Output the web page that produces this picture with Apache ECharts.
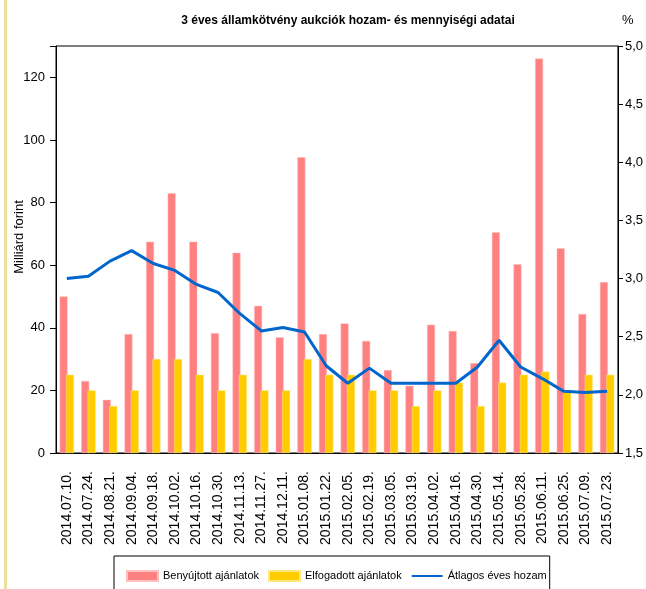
<!DOCTYPE html>
<html>
<head>
    <meta charset="utf-8">
    <title>3 éves államkötvény aukciók</title>
    <script src="https://cdn.jsdelivr.net/npm/echarts@6.0.0/dist/echarts.min.js"></script>
    <style>
        html, body {
            margin: 0;
            padding: 0;
            width: 100%;
            height: 100%;
            overflow: hidden;
            background: #ffffff;
        }
        #chart {
            width: 646px;
            height: 589px;
        }
    </style>
</head>
<body>
    <div id="chart"></div>
    <script>
        // aukciós dátumok
        const datumok = [
            '2014.07.10.', '2014.07.24.', '2014.08.21.', '2014.09.04.', '2014.09.18.',
            '2014.10.02.', '2014.10.16.', '2014.10.30.', '2014.11.13.', '2014.11.27.',
            '2014.12.11.', '2015.01.08.', '2015.01.22.', '2015.02.05.', '2015.02.19.',
            '2015.03.05.', '2015.03.19.', '2015.04.02.', '2015.04.16.', '2015.04.30.',
            '2015.05.14.', '2015.05.28.', '2015.06.11.', '2015.06.25.', '2015.07.09.',
            '2015.07.23.'
        ];

        // Milliárd forint
        const benyujtott = [50, 23, 17, 38, 67.5, 83, 67.5, 38.3, 64, 47, 37, 94.5, 38,
            41.4, 35.8, 26.5, 21.5, 41, 39, 28.7, 70.5, 60.3, 126, 65.4, 44.4, 54.6];
        const elfogadott = [25, 20, 15, 20, 30, 30, 25, 20, 25, 20, 20, 30, 25,
            25, 20, 20, 15, 20, 22.5, 15, 22.5, 25, 26, 20, 25, 25];

        // %
        const hozam = [3.00, 3.02, 3.15, 3.24, 3.13, 3.07, 2.95, 2.88, 2.70, 2.55, 2.58, 2.54, 2.25,
            2.10, 2.23, 2.10, 2.10, 2.10, 2.10, 2.24, 2.47, 2.24, 2.14, 2.03, 2.02, 2.03];

        const font = '"Liberation Sans", Arial, sans-serif';

        const chart = echarts.init(document.getElementById('chart'), null, { renderer: 'canvas' });

        const option = {
            backgroundColor: '#ffffff',
            animation: false,
            title: [{
                text: '3 éves államkötvény aukciók hozam- és mennyiségi adatai',
                left: 343,
                top: 10,
                textAlign: 'center',
                textStyle: { fontFamily: font, fontSize: 12, fontWeight: 'bold', color: '#000' }
            }, {
                text: '%',
                left: 617,
                top: 9,
                textStyle: { fontFamily: font, fontSize: 13, fontWeight: 'normal', color: '#000' }
            }],
            graphic: [{
                type: 'rect',
                left: 4,
                top: 0,
                shape: { width: 3, height: 589 },
                style: { fill: '#ebe09c' },
                silent: true
            }, {
                type: 'text',
                x: 19,
                y: 237,
                rotation: Math.PI / 2,
                style: {
                    text: 'Milliárd forint',
                    fontFamily: font,
                    fontSize: 13,
                    fill: '#000',
                    align: 'center',
                    verticalAlign: 'middle'
                }
            }],
            legend: {
                left: 114,
                top: 556,
                padding: [14, 3, 30, 12],
                borderColor: '#000',
                borderWidth: 1,
                itemGap: 9,
                itemWidth: 31,
                itemHeight: 10,
                textStyle: { fontFamily: font, fontSize: 11, color: '#000' },
                data: [
                    { name: 'Benyújtott ajánlatok', icon: 'rect' },
                    { name: 'Elfogadott ajánlatok', icon: 'rect' },
                    { name: 'Átlagos éves hozam', itemStyle: { opacity: 0 } }
                ]
            },
            grid: {
                left: 56,
                right: 27,
                top: 46,
                bottom: 136,
                show: true,
                borderColor: '#000',
                borderWidth: 1
            },
            xAxis: {
                type: 'category',
                data: datumok,
                boundaryGap: true,
                axisLine: { lineStyle: { color: '#000', width: 1 } },
                axisTick: { interval: 0, length: 6, lineStyle: { color: '#000' } },
                axisLabel: {
                    interval: 0,
                    rotate: 90,
                    margin: 18,
                    fontFamily: font,
                    fontSize: 14,
                    color: '#000'
                },
                splitLine: { show: false }
            },
            yAxis: [{
                type: 'value',
                min: 0,
                max: 130,
                interval: 20,
                axisLine: { show: true, lineStyle: { color: '#000' } },
                axisTick: { show: true, length: 6, lineStyle: { color: '#000' } },
                axisLabel: {
                    margin: 11,
                    fontFamily: font,
                    fontSize: 13,
                    color: '#000',
                    formatter: (v) => (v > 120 ? '' : String(v))
                },
                splitLine: { show: false }
            }, {
                type: 'value',
                position: 'right',
                min: 1.5,
                max: 5,
                interval: 0.5,
                axisLine: { show: true, lineStyle: { color: '#000' } },
                axisTick: { show: true, length: 5, lineStyle: { color: '#000' } },
                axisLabel: {
                    margin: 7,
                    fontFamily: font,
                    fontSize: 13,
                    color: '#000',
                    formatter: (v) => v.toFixed(1).replace('.', ',')
                },
                splitLine: { show: false }
            }],
            series: [{
                name: 'Benyújtott ajánlatok',
                type: 'bar',
                data: benyujtott,
                barWidth: 8,
                barGap: '-20%',
                itemStyle: { color: '#ff8080', borderColor: '#ffc0c0', borderWidth: 0.5 }
            }, {
                name: 'Elfogadott ajánlatok',
                type: 'bar',
                data: elfogadott,
                barWidth: 8,
                itemStyle: { color: '#ffcc00', borderColor: '#ffe680', borderWidth: 0.5 }
            }, {
                name: 'Átlagos éves hozam',
                type: 'line',
                yAxisIndex: 1,
                data: hozam,
                symbol: 'none',
                lineStyle: { color: '#0066cc', width: 3 },
                itemStyle: { color: '#0066cc' },
                z: 5
            }]
        };

        chart.setOption(option);
    </script>
</body>
</html>
